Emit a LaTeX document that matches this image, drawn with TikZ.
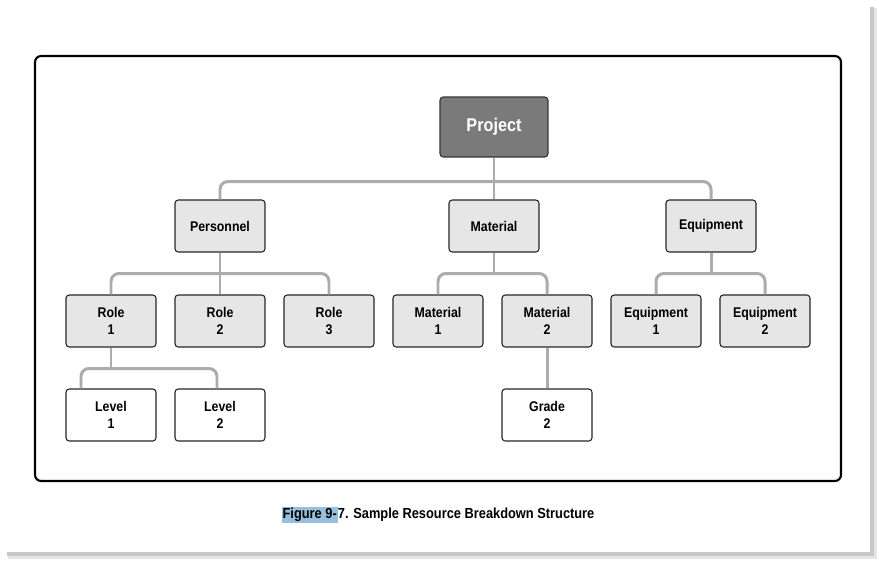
\documentclass[tikz,border=0pt]{standalone}
\usepackage{fontspec}
\setmainfont{Liberation Sans}
\newfontfamily\narrowfont[FakeStretch=0.88]{Liberation Sans}
\usepackage{xcolor}
\usetikzlibrary{calc}
\definecolor{GreyBox}{RGB}{230,230,230}
\definecolor{GreyProject}{RGB}{122,122,122}
\definecolor{GreyLink}{RGB}{172,172,172}
\definecolor{CaptionBlue}{RGB}{150,192,222}
\tikzset{
  wbs/.style={draw=black!85,line width=0.6pt,rounded corners=1.8pt,fill=GreyBox,
    minimum width=1.8cm,minimum height=1.04cm,align=center,
    font=\narrowfont\bfseries\fontsize{8}{9.5}\selectfont},
  leaf/.style={wbs,fill=white},
  top/.style={wbs,fill=GreyProject,draw=black!80,text=white,
    minimum width=2.16cm,minimum height=1.2cm,
    font=\narrowfont\bfseries\fontsize{10.5}{12}\selectfont},
  link/.style={GreyLink,line width=1.7pt,rounded corners=4.5pt},
}

\begin{document}
\begin{tikzpicture}[x=0.02cm,y=-0.02cm]
  \useasboundingbox (0,0) rectangle (879,561);
  % page and its shadow
  \fill[black!10] (8,8) rectangle (877,559);
  \fill[black!22] (7,7) rectangle (874,556);
  \fill[white] (4,4) rectangle (870,552);
  \draw[line width=1.2pt,rounded corners=3.5pt] (35,56) rectangle (841,481);

  \node[top] (proj) at (494,127) {Project};
  \node[wbs] (pers) at (220,226) {Personnel};
  \node[wbs] (mat) at (494,226) {Material};
  \node[wbs] (equip) at (711,226) {Equipment};

  \node[wbs] (role1) at (111,321) {Role\\1};
  \node[wbs] (role2) at (220,321) {Role\\2};
  \node[wbs] (role3) at (329,321) {Role\\3};
  \node[wbs] (mat1) at (438,321) {Material\\1};
  \node[wbs] (mat2) at (547,321) {Material\\2};
  \node[wbs] (equip1) at (656,321) {Equipment\\1};
  \node[wbs] (equip2) at (765,321) {Equipment\\2};

  \node[leaf] (lvl1) at (111,415) {Level\\1};
  \node[leaf] (lvl2) at (220,415) {Level\\2};
  \node[leaf] (grade2) at (547,415) {Grade\\2};

  % connectors
  \coordinate (busTop) at ($(proj.south)+(0,24)$);
  \draw[link] (proj.south) -- (busTop);
  \draw[link] (pers.north) |- (busTop) -| (equip.north);
  \draw[link] (busTop) -- (mat.north);

  \coordinate (busPers) at ($(pers.south)+(0,21)$);
  \draw[link] (pers.south) -- (busPers);
  \draw[link] (role1.north) |- (busPers) -| (role3.north);
  \draw[link] (busPers) -- (role2.north);

  \coordinate (busMat) at ($(mat.south)+(0,21)$);
  \draw[link] (mat.south) -- (busMat);
  \draw[link] (mat1.north) |- (busMat) -| (mat2.north);

  \coordinate (busEquip) at ($(equip.south)+(0,21)$);
  \draw[link] (equip.south) -- (busEquip);
  \draw[link] (equip1.north) |- (busEquip) -| (equip2.north);

  \coordinate (busRole) at ($(role1.south)+(0,21)$);
  \draw[link] (role1.south) -- (busRole);
  \draw[link] ($(lvl1.north)+(-30,0)$) |- (busRole) -| ($(lvl2.north)+(-3,0)$);

  \draw[link] (mat2.south) -- (grade2.north);

  \node[font=\narrowfont\bfseries\fontsize{8.3}{10}\selectfont] (caption) at (438,515)
    {{\setlength\fboxsep{0.6pt}\colorbox{CaptionBlue}{Figure 9-}}7. Sample Resource Breakdown Structure};
\end{tikzpicture}
\end{document}
